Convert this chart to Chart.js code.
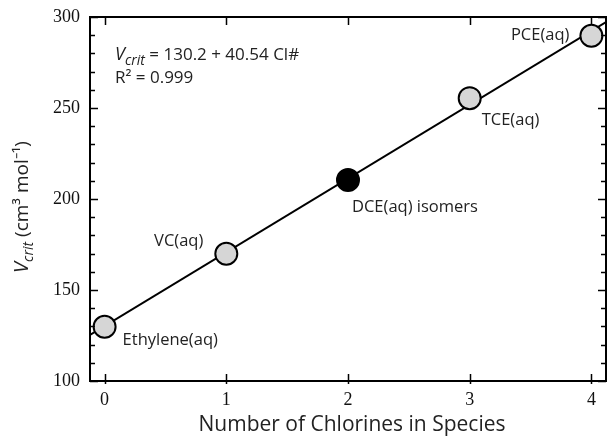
<!DOCTYPE html>
<html>
<head>
<meta charset="utf-8">
<script src="https://cdn.jsdelivr.net/npm/chart.js@4/dist/chart.umd.min.js"></script>
<style>
  html, body { margin: 0; padding: 0; background: #fff; }
  #wrap { width: 607px; height: 438px; }
</style>
</head>
<body>
<div id="wrap"><canvas id="c" width="607" height="438"></canvas></div>
<script>
// number of Cl atoms vs critical volume
const chlorines = [0, 1, 2, 3, 4]
const species = ['Ethylene(aq)', 'VC(aq)', 'DCE(aq) isomers', 'TCE(aq)', 'PCE(aq)']
const vcrit = [129.8, 169.9, 210.4, 255.4, 289.7]
const xTicks = [0, 1, 2, 3, 4]
const yTicks = [100, 150, 200, 250, 300]
const fitIntercept = 130.2
const fitSlope = 40.54
const xMin = -0.12, xMax = 4.12

// label placement relative to each marker (px)
const labelPos = [
  { dx: 18, dy: 14, align: 'left' },
  { dx: -23, dy: -12, align: 'right' },
  { dx: 4, dy: 27, align: 'left' },
  { dx: 12, dy: 22, align: 'left' },
  { dx: -22, dy: 0, align: 'right' }
]

const hand = '"Open Sans", sans-serif'
const serif = '"Liberation Serif", serif'

const fitLine = [xMin, xMax].map(x => ({ x, y: fitIntercept + fitSlope * x }))

// no extra room for label overhang, the box fills the canvas
function tight(s) {
  s.paddingLeft = 0; s.paddingRight = 0
  s.paddingTop = 0; s.paddingBottom = 0
}

const frame = {
  id: 'frame',
  afterDraw(chart) {
    const { ctx, chartArea: a, scales: { x, y } } = chart
    ctx.save()
    ctx.strokeStyle = '#000'
    ctx.lineWidth = 2
    ctx.strokeRect(a.left, a.top, a.right - a.left, a.bottom - a.top)
    ctx.lineWidth = 1.5
    ctx.beginPath()
    // y ticks, inward on both sides
    for (let v = 100; v <= 300; v += 10) {
      const py = Math.round(y.getPixelForValue(v)) + 0.5
      const len = v % 50 === 0 ? 8 : 5
      ctx.moveTo(a.left, py); ctx.lineTo(a.left + len, py)
      ctx.moveTo(a.right, py); ctx.lineTo(a.right - len, py)
    }
    // x ticks
    xTicks.forEach(v => {
      const px = Math.round(x.getPixelForValue(v)) + 0.5
      ctx.moveTo(px, a.bottom + 3); ctx.lineTo(px, a.bottom - 7)
      ctx.moveTo(px, a.top); ctx.lineTo(px, a.top + 8)
    })
    ctx.stroke()

    // point labels
    ctx.fillStyle = '#222'
    ctx.font = '16.5px ' + hand
    ctx.textBaseline = 'middle'
    chlorines.forEach((c, i) => {
      const p = labelPos[i]
      ctx.textAlign = p.align
      ctx.fillText(species[i], x.getPixelForValue(c) + p.dx, y.getPixelForValue(vcrit[i]) + p.dy)
    })

    // fit equation
    ctx.textAlign = 'left'
    ctx.textBaseline = 'alphabetic'
    let tx = 115
    ctx.font = 'italic 18px ' + hand
    ctx.fillText('V', tx, 60); tx += ctx.measureText('V').width
    ctx.font = 'italic 14px ' + hand
    ctx.fillText('crit', tx, 65); tx += ctx.measureText('crit').width
    ctx.font = '17px ' + hand
    ctx.fillText(' = ' + fitIntercept + ' + ' + fitSlope + ' Cl#', tx, 60)
    ctx.fillText('R² = 0.999', 115, 83)

    // axis titles
    ctx.font = '21px ' + hand
    ctx.textAlign = 'center'
    ctx.fillText('Number of Chlorines in Species', 352, 431)

    ctx.translate(28, 207)
    ctx.rotate(-Math.PI / 2)
    const parts = [
      ['V', 'italic 20px ' + hand, 0],
      ['crit', 'italic 14px ' + hand, 5],
      [' (cm³ mol⁻¹)', '19px ' + hand, 0]
    ]
    let w = 0
    parts.forEach(([t, f]) => { ctx.font = f; w += ctx.measureText(t).width })
    let ox = -w / 2
    ctx.textAlign = 'left'
    parts.forEach(([t, f, d]) => {
      ctx.font = f
      ctx.fillText(t, ox, d)
      ox += ctx.measureText(t).width
    })
    ctx.restore()
  }
}

new Chart(document.getElementById('c'), {
  type: 'scatter',
  data: {
    datasets: [
      {
        type: 'line',
        data: fitLine,
        borderColor: '#000',
        borderWidth: 2,
        pointRadius: 0,
        order: 2
      },
      {
        data: chlorines.map((c, i) => ({ x: c, y: vcrit[i] })),
        backgroundColor: chlorines.map(c => c === 2 ? '#000' : '#d6d6d6'),
        borderColor: '#000',
        borderWidth: 2,
        pointRadius: 11,
        pointHoverRadius: 11,
        clip: false,
        order: 1
      }
    ]
  },
  options: {
    responsive: false,
    animation: false,
    layout: { autoPadding: false, padding: { top: 17, right: 1, left: 0, bottom: 0 } },
    plugins: { legend: { display: false }, tooltip: { enabled: false } },
    scales: {
      x: {
        type: 'linear',
        min: xMin,
        max: xMax,
        afterBuildTicks: s => { s.ticks = xTicks.map(v => ({ value: v })) },
        afterFit: s => { s.height = 57; tight(s) },
        grid: { display: false, drawTicks: false },
        border: { display: false },
        ticks: { color: '#111', font: { family: serif, size: 18 }, padding: 8 }
      },
      y: {
        min: 100,
        max: 300,
        afterBuildTicks: s => { s.ticks = yTicks.map(v => ({ value: v })) },
        afterFit: s => { s.width = 90; tight(s) },
        grid: { display: false, drawTicks: false },
        border: { display: false },
        ticks: { color: '#111', font: { family: serif, size: 18 }, padding: 10 }
      }
    }
  },
  plugins: [frame]
})
</script>
</body>
</html>
